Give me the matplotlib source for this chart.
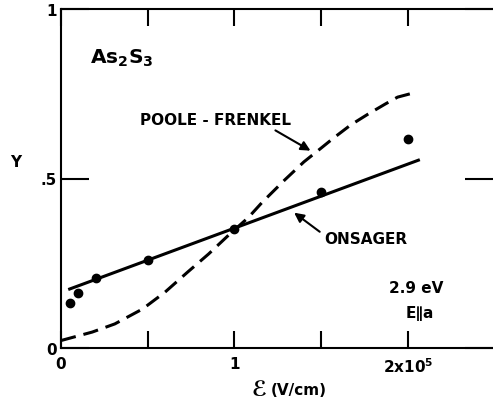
import matplotlib
matplotlib.use("Agg")
import matplotlib.pyplot as plt

plt.rcParams['font.family'] = ['DejaVu Sans']
plt.rcParams['font.weight'] = 'bold'
plt.rcParams['mathtext.fontset'] = 'custom'
plt.rcParams['mathtext.rm'] = 'DejaVu Sans:bold'
plt.rcParams['mathtext.default'] = 'rm'

# Measured points (field in units of 1e5 V/cm)
field_pts = [0.05, 0.1, 0.2, 0.5, 1.0, 1.5, 2.0]
y_pts = [0.133, 0.162, 0.206, 0.259, 0.351, 0.46, 0.617]

# Onsager fit (straight line)
onsager_x = [0.05, 2.06]
onsager_y = [0.174, 0.554]

# Poole-Frenkel curve
pf_x = [0.0, 0.18, 0.31, 0.47, 0.60, 0.73, 0.85, 0.96, 1.08, 1.16, 1.29, 1.40,
        1.50, 1.57, 1.67, 1.77, 1.87, 1.94, 2.05]
pf_y = [0.022, 0.047, 0.071, 0.115, 0.165, 0.224, 0.277, 0.33, 0.385, 0.43, 0.496, 0.549,
        0.59, 0.619, 0.658, 0.690, 0.720, 0.740, 0.755]

xtick_vals = [0, 0.5, 1, 1.5, 2]
xtick_labels = ['0', '', '1', '', '2x10$^5$']
ytick_vals = [0, 0.5, 1]
ytick_labels = ['0', '.5', '1']

fig = plt.figure(figsize=(4.93, 4.02), dpi=100)
ax = fig.add_axes([61/493, 1-349/402, 1-61/493, (349-10)/402])
ax.set_xlim(0, 2.49)
ax.set_ylim(0, 1)

ax.plot(pf_x, pf_y, color='black', lw=2.2, linestyle=(0, (5.0, 2.6)), solid_capstyle='butt')
ax.plot(onsager_x, onsager_y, color='black', lw=2.2)
ax.plot(field_pts, y_pts, 'o', color='black', ms=6)

for s in ['left', 'bottom', 'top']:
    ax.spines[s].set_linewidth(1.5)
ax.spines['right'].set_visible(False)

ax.set_xticks(xtick_vals)
ax.set_xticklabels(xtick_labels, fontsize=11, fontweight='bold')
ax.set_yticks(ytick_vals)
ax.set_yticklabels(ytick_labels, fontsize=11, fontweight='bold')
ax.tick_params(axis='x', direction='in', length=12, width=1.5, top=True, pad=6)
ax.tick_params(axis='y', direction='in', length=20, width=1.5, right=True, pad=3)
ax.tick_params(axis='y', which='major', right=True, labelright=False)

ax.text(0.35, 0.858, 'As$_2$S$_3$', fontsize=14.5, fontweight='bold', ha='center', va='center')
ax.text(0.893, 0.675, 'POOLE - FRENKEL', fontsize=11, fontweight='bold', ha='center', va='center')
ax.annotate('', xy=(1.452, 0.578), xytext=(1.222, 0.646),
            arrowprops=dict(arrowstyle='-|>', lw=1.5, color='black', mutation_scale=14))
ax.text(1.52, 0.322, 'ONSAGER', fontsize=11, fontweight='bold', ha='left', va='center')
ax.annotate('', xy=(1.331, 0.404), xytext=(1.504, 0.338),
            arrowprops=dict(arrowstyle='-|>', lw=1.5, color='black', mutation_scale=14))
ax.text(2.05, 0.177, '2.9 eV', fontsize=11, fontweight='bold', ha='center', va='center')
ax.text(2.07, 0.106, 'E∥a', fontsize=11, fontweight='bold', ha='center', va='center')

ax.text(-0.106, 0.549, 'Y', transform=ax.get_yaxis_transform(), fontsize=11,
        fontweight='bold', ha='center', va='center')
ax.text(1.14, -0.121, 'ℰ', fontsize=15, ha='center', va='center', clip_on=False)
ax.text(1.21, -0.121, '(V/cm)', fontsize=11, fontweight='bold', ha='left', va='center',
        clip_on=False)

fig.savefig('out.png', dpi=100)
